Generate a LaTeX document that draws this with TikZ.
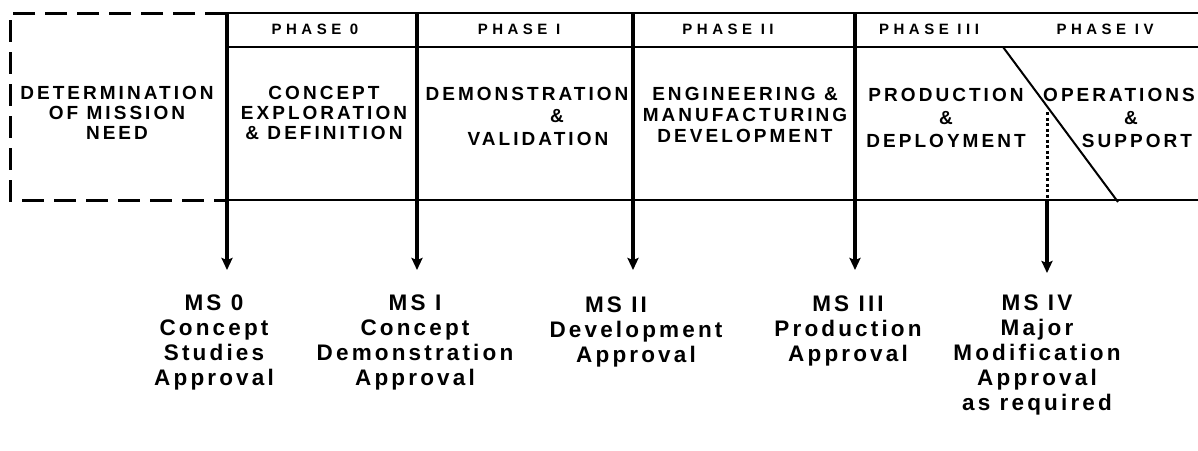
\documentclass[tikz,border=0pt]{standalone}
\usepackage{fontspec}
\usetikzlibrary{arrows.meta}
\newfontfamily\topfont{Liberation Sans}[LetterSpace=16]
\newfontfamily\hdrfont{Liberation Sans}[LetterSpace=30]
\newfontfamily\msfont{Liberation Sans}[LetterSpace=14]
\tikzset{
  boxtext/.style={anchor=north,inner sep=0pt,align=center,font=\topfont\bfseries\fontsize{19}{21}\selectfont},
  hdrtext/.style={anchor=north,inner sep=0pt,align=center,font=\hdrfont\bfseries\fontsize{15}{16}\selectfont},
  mstext/.style={anchor=north,inner sep=0pt,align=center,font=\msfont\bfseries\fontsize{22.5}{25}\selectfont},
  hline/.style={line width=2.6pt},
  dashline/.style={line width=3pt,dash pattern=on 22pt off 10pt},
  arrowline/.style={line width=4pt,-{Stealth[length=12pt,width=11pt,inset=2pt]}},
  dotline/.style={line width=3pt,dash pattern=on 3pt off 2.5pt},
  diag/.style={line width=2pt}
}
\begin{document}
\begin{tikzpicture}[x=1pt,y=-1pt]
\useasboundingbox (0,0) rectangle (1198,450);
\clip (0,0) rectangle (1198,450);
% key coordinates
\coordinate (tl) at (10,13);
\coordinate (bl) at (10,200);
\coordinate (t0) at (227,13);
\coordinate (t1) at (417,13);
\coordinate (t2) at (633,13);
\coordinate (t3) at (855,13);
\coordinate (tr) at (1198,13);
\coordinate (h0) at (227,47);
\coordinate (hr) at (1198,47);
\coordinate (b0) at (227,200);
\coordinate (br) at (1198,200);
\coordinate (e0) at (227,270);
\coordinate (e1) at (417,270);
\coordinate (e2) at (633,270);
\coordinate (e3) at (855,270);
\coordinate (d1) at (1003,47);
\coordinate (d2) at (1118,202);
\coordinate (m4a) at (1047,112);
\coordinate (m4b) at (1047,200);
\coordinate (m4c) at (1047,273);
% dashed box
\draw[dashline] (t0) -- (tl) -- (bl) -- (b0);
% frame lines
\draw[hline] (t0) -- (tr);
\draw[hline] (h0) -- (hr);
\draw[hline] (b0) -- (br);
% dividers with arrows
\draw[arrowline] (t0) -- (e0);
\draw[arrowline] (t1) -- (e1);
\draw[arrowline] (t2) -- (e2);
\draw[arrowline] (t3) -- (e3);
% phase III / IV split
\draw[diag] (d1) -- (d2);
\draw[dotline] (m4a) -- (m4b);
\draw[arrowline] (m4b) -- (m4c);
% header texts
\node[hdrtext] (ph0) at (315,24) {PHASE 0};
\node[hdrtext] (ph1) at (519,24) {PHASE I};
\node[hdrtext] (ph2) at (728,24) {PHASE II};
\node[hdrtext] (ph3) at (929,24) {PHASE III};
\node[hdrtext] (ph4) at (1105,24) {PHASE IV};
% box texts
\node[boxtext,font=\topfont\bfseries\fontsize{19}{20}\selectfont] (dmn) at (117,86) {DETERMINATION\\OF MISSION\\NEED};
\node[boxtext,font=\topfont\bfseries\fontsize{19}{20}\selectfont] (c0) at (324,86) {CONCEPT\\EXPLORATION\\\& DEFINITION};
\node[boxtext,font=\topfont\bfseries\fontsize{19}{22.5}\selectfont] (c1) at (527,87) {DEMONSTRATION\\\hspace*{60pt}\&\\\hspace*{22pt}VALIDATION};
\node[boxtext,font=\topfont\bfseries\fontsize{19}{21}\selectfont] (c2) at (745,87) {ENGINEERING \&\\MANUFACTURING\\DEVELOPMENT};
\node[boxtext,font=\topfont\bfseries\fontsize{19}{23}\selectfont] (c3) at (946,88) {PRODUCTION\\\&\\DEPLOYMENT};
\node[boxtext,font=\topfont\bfseries\fontsize{19}{23}\selectfont] (c4) at (1119,88) {OPERATIONS\\\hspace*{24pt}\&\\\hspace*{36pt}SUPPORT};
% milestone texts
\node[mstext] (ms0) at (214,295) {MS 0\\Concept\\Studies\\Approval};
\node[mstext] (ms1) at (415,295) {MS I\\Concept\\Demonstration\\Approval};
\node[mstext] (ms2) at (636,297) {MS II\hspace*{40pt}\\Development\\Approval};
\node[mstext] (ms3) at (848,296) {MS III\\Production\\Approval};
\node[mstext] (ms4) at (1037,295) {MS IV\\Major\\Modification\\Approval\\as required};
\end{tikzpicture}
\end{document}
